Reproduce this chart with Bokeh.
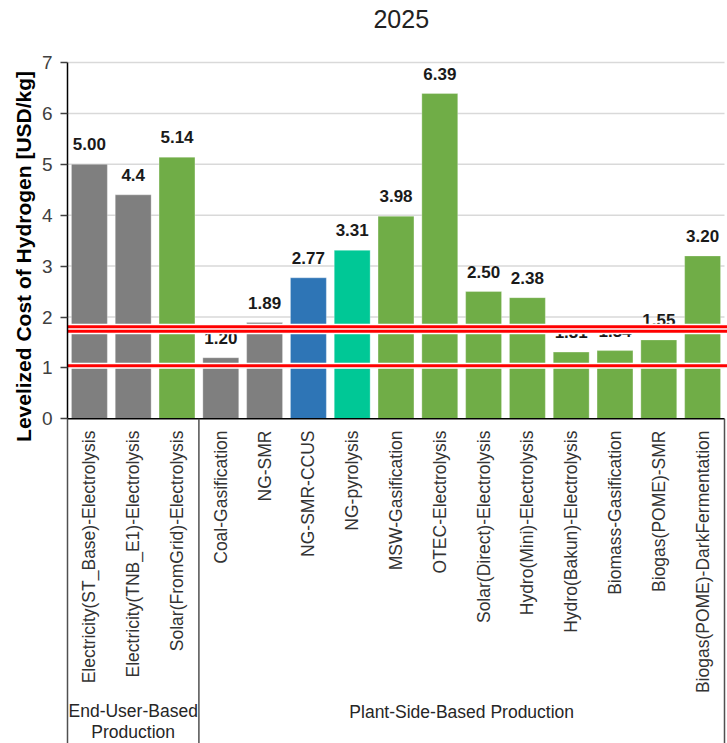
from math import pi

from bokeh.core.properties import value
from bokeh.embed import file_html
from bokeh.models import ColumnDataSource, FixedTicker, Range1d
from bokeh.plotting import figure
from bokeh.resources import INLINE

# Levelized cost of hydrogen by production pathway, 2025
pathways = [
    "Electricity(ST_Base)-Electrolysis",
    "Electricity(TNB_E1)-Electrolysis",
    "Solar(FromGrid)-Electrolysis",
    "Coal-Gasification",
    "NG-SMR",
    "NG-SMR-CCUS",
    "NG-pyrolysis",
    "MSW-Gasification",
    "OTEC-Electrolysis",
    "Solar(Direct)-Electrolysis",
    "Hydro(Mini)-Electrolysis",
    "Hydro(Bakun)-Electrolysis",
    "Biomass-Gasification",
    "Biogas(POME)-SMR",
    "Biogas(POME)-DarkFermentation",
]
lcoh = [5.00, 4.4, 5.14, 1.20, 1.89, 2.77, 3.31, 3.98, 6.39, 2.50, 2.38, 1.31, 1.34, 1.55, 3.20]
lcoh_labels = ["5.00", "4.4", "5.14", "1.20", "1.89", "2.77", "3.31", "3.98", "6.39",
               "2.50", "2.38", "1.31", "1.34", "1.55", "3.20"]
hydrogen_kind = ["grey", "grey", "green", "grey", "grey", "blue", "turquoise", "green",
                 "green", "green", "green", "green", "green", "green", "green"]
kind_colors = {"grey": "#7F7F7F", "green": "#70AD47", "blue": "#2E75B6", "turquoise": "#00C896"}

# Pathway groups: (label, first index, count)
groups = [("End-User-Based\nProduction", 0, 3), ("Plant-Side-Based Production", 3, 12)]

# Reference cost levels (USD/kg)
reference_levels = [1.81, 1.72, 1.04]
y_ticks = [0, 1, 2, 3, 4, 5, 6, 7]

chart_title = "2025"
y_title = "Levelized Cost of Hydrogen [USD/kg]"

FONT = "Liberation Sans"

W, H = 727, 743
X0_PX, XN_PX = 67.0, 724.0        # where the category band starts / ends
Y0_PX, PX_PER_UNIT = 418.3, 50.9  # baseline and vertical scale

n = len(pathways)
px_per_cat = (XN_PX - X0_PX) / n
x_start = -X0_PX / px_per_cat
x_end = n + (W - XN_PX) / px_per_cat
y_start = -(H - Y0_PX) / PX_PER_UNIT
y_end = Y0_PX / PX_PER_UNIT

xs = [i + 0.5 for i in range(n)]

source = ColumnDataSource(dict(
    x=xs,
    top=lcoh,
    label=lcoh_labels,
    name=pathways,
    color=[kind_colors[k] for k in hydrogen_kind],
))

p = figure(
    width=W, height=H,
    x_range=Range1d(x_start, x_end),
    y_range=Range1d(y_start, y_end),
    x_axis_type=None,
    output_backend="svg",
    toolbar_location=None,
    min_border=0,
    outline_line_color=None,
    background_fill_color="white",
    border_fill_color="white",
)
p.grid.visible = False

# y axis pinned at the start of the category band, spanning 0..7
yax = p.yaxis[0]
yax.fixed_location = 0
yax.bounds = (0, 7)
yax.ticker = FixedTicker(ticks=y_ticks)
yax.minor_tick_line_color = None
yax.major_tick_in = 0
yax.major_tick_out = 7
yax.major_tick_line_color = "#404040"
yax.major_tick_line_width = 1.5
yax.axis_line_color = "black"
yax.axis_line_width = 1.5
yax.major_label_text_font = FONT
yax.major_label_text_font_size = "19px"
yax.major_label_text_color = "#404040"
yax.major_label_standoff = 8

# Horizontal gridlines over the category band
grid_levels = y_ticks[1:]
p.segment(x0=[0] * len(grid_levels), y0=grid_levels, x1=[n] * len(grid_levels),
          y1=grid_levels, line_color="#D9D9D9", line_width=1.5)

# Bars
p.vbar(x="x", top="top", bottom=0, width=0.82, fill_color="color",
       line_color="white", line_width=0.6, line_alpha=0.5, source=source)

# Value labels above bars
p.text(x="x", y="top", text="label", source=source, y_offset=-20,
       text_align="center", text_baseline="middle",
       text_font=value(FONT), text_font_style="bold",
       text_font_size="17px", text_color="#1A1A1A")

# Reference levels: red lines with a thin white edge
for lvl in reference_levels:
    p.segment(x0=[0], y0=[lvl], x1=[x_end], y1=[lvl], line_color="white", line_width=6)
for lvl in reference_levels:
    p.segment(x0=[0], y0=[lvl], x1=[x_end], y1=[lvl], line_color="#FF0000", line_width=3)

# Category box under the plot
p.segment(x0=[0], y0=[0], x1=[n], y1=[0], line_color="black", line_width=1.5)
edges = [0] + [start + count for _, start, count in groups]
p.segment(x0=edges, y0=[0] * len(edges), x1=edges, y1=[y_start] * len(edges),
          line_color="#505050", line_width=1.5)

# Rotated pathway names
p.text(x="x", y=-0.23, text="name", source=source, angle=pi / 2,
       text_align="right", text_baseline="middle",
       text_font=value(FONT), text_font_size="17.5px", text_color="#333333")

# Group names
p.text(x=[groups[0][1] + groups[0][2] / 2], y=[-5.95], text=[groups[0][0]],
       text_align="center", text_baseline="middle", text_line_height=1.05,
       text_font=value(FONT), text_font_size="17.5px", text_color="#262626")
p.text(x=[groups[1][1] + groups[1][2] / 2], y=[-5.76], text=[groups[1][0]],
       text_align="center", text_baseline="middle",
       text_font=value(FONT), text_font_size="17.5px", text_color="#262626")

# Axis title and chart title
p.text(x=[-1.0], y=[3.19], text=[y_title], angle=pi / 2,
       text_align="center", text_baseline="middle",
       text_font=value(FONT), text_font_style="bold", text_font_size="21px",
       text_color="#000000")
p.text(x=[7.62], y=[7.86], text=[chart_title],
       text_align="center", text_baseline="middle",
       text_font=value(FONT), text_font_size="25px", text_color="#222222")

open("out.html", "w").write(file_html(p, INLINE))
